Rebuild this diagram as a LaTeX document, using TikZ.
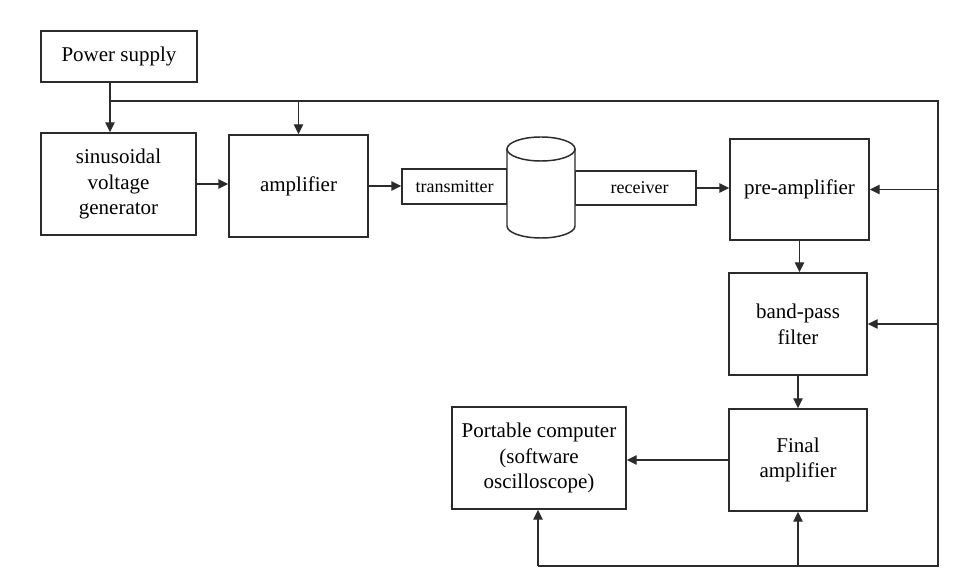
\documentclass[tikz,border=0pt]{standalone}
\usepackage{fontspec}
\setmainfont{Liberation Serif}
\usetikzlibrary{arrows.meta}
\definecolor{ink}{HTML}{2B2B2B}
\tikzset{
  box/.style={draw=ink, line width=1.1pt, rectangle, inner sep=0pt, align=center,
    font=\fontsize{15.75pt}{19.3pt}\selectfont, text=black},
  smallbox/.style={box, font=\fontsize{13.5pt}{16pt}\selectfont},
  wire/.style={draw=ink, line width=1.1pt},
  arr/.style={wire, -{Triangle[length=7.5pt, width=7pt]}},
}
\begin{document}
\begin{tikzpicture}[x=0.75pt, y=-0.75pt]
\useasboundingbox[fill=white] (0,0) rectangle (960,580);

\node[box, minimum width=117pt, minimum height=38.25pt] (power) at (119,56.5) {Power supply};
\node[box, minimum width=116.25pt, minimum height=76.5pt] (sin) at (118.5,184) {sinusoidal\\voltage\\generator};
\node[box, minimum width=104.25pt, minimum height=76.5pt] (amp) at (298.5,186) {amplifier};
\node[smallbox, minimum width=78.75pt, minimum height=26.25pt] (trans) at (454.5,186.5) {transmitter};
\node[smallbox, minimum width=90.75pt, minimum height=25.5pt] (recv) at (635.5,188) {\hspace*{6pt}receiver};
\node[box, minimum width=104.25pt, minimum height=75.75pt] (pre) at (799.5,189.5) {pre-amplifier};
\node[box, minimum width=103.5pt, minimum height=76.5pt] (band) at (798,324) {band-pass\\filter};
\node[box, minimum width=103.5pt, minimum height=76.5pt] (final) at (798,460) {Final\\amplifier};
\node[box, minimum width=130.5pt, minimum height=76.5pt] (port) at (539,458) {Portable computer\\(software\\oscilloscope)};

% cylinder (medium)
\coordinate (cyl) at (541,149);
\path[wire, fill=white] (507,149) -- (507,226) arc[start angle=180, end angle=360, x radius=25.5pt, y radius=9pt] -- (575,149);
\draw[wire] (cyl) ellipse [x radius=25.5pt, y radius=9pt];

% power distribution
\coordinate (j1) at (110,101);
\coordinate (tr) at (938,101);
\coordinate (br) at (938,566);
\coordinate (bl) at (538,566);
\draw[wire] (j1) -- (tr) -- (br) -- (bl);
\draw[arr] (j1 |- power.south) -- (j1 |- sin.north);
\draw[arr] (amp.north |- tr) -- (amp.north);
\draw[arr] (tr |- pre.east) -- (pre.east);
\draw[arr] (tr |- band.east) -- (band.east);
\draw[arr] (final.south |- br) -- (final.south);
\draw[arr] (bl) -- (bl |- port.south);

% signal chain
\draw[arr] (sin.east) -- (sin.east -| amp.west);
\draw[arr] (amp.east) -- (amp.east -| trans.west);
\draw[arr] (recv.east) -- (recv.east -| pre.west);
\draw[arr] (pre.south) -- (pre.south |- band.north);
\draw[arr] (band.south) -- (band.south |- final.north);
\draw[arr] (final.west) -- (final.west -| port.east);
\end{tikzpicture}
\end{document}
